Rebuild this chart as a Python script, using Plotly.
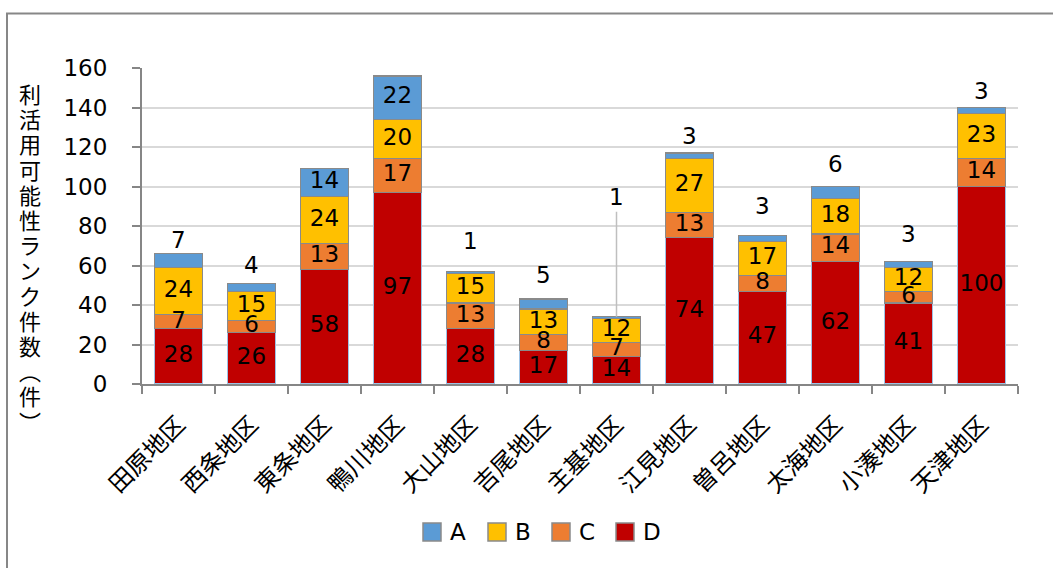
import plotly.graph_objects as go

# 地区別・ランク別の件数
districts = ["田原地区", "西条地区", "東条地区", "鴨川地区", "大山地区", "吉尾地区",
             "主基地区", "江見地区", "曽呂地区", "太海地区", "小湊地区", "天津地区"]
rank_a = [7, 4, 14, 22, 1, 5, 1, 3, 3, 6, 3, 3]
rank_b = [24, 15, 24, 20, 15, 13, 12, 27, 17, 18, 12, 23]
rank_c = [7, 6, 13, 17, 13, 8, 7, 13, 8, 14, 6, 14]
rank_d = [28, 26, 58, 97, 28, 17, 14, 74, 47, 62, 41, 100]

y_ticks = [0, 20, 40, 60, 80, 100, 120, 140, 160]
y_title = "利活用可能性ランク件数︵件︶"

# ラベルを棒の上に出すAランク値の縦方向ずらし量 (px)
a_label_shift = [14, 18, 0, 0, 30, 24, 119, 17, 30, 23, 28, 17]

COLORS = {"A": "#5B9BD5", "B": "#FFC000", "C": "#ED7D31", "D": "#C00000"}
FONT = "DejaVu Sans, Noto Sans CJK JP, sans-serif"
CJK = "Noto Sans CJK JP, sans-serif"
LABEL_SIZE = 23

W, H = 1053, 568
L, R, T, B = 142, 35, 68, 184
pw, ph = W - L - R, H - T - B


def px_x(px):
    return (px - L) / pw


def px_y(py):
    return (H - B - py) / ph


fig = go.Figure()

# 積み上げ順 (下から D, C, B, A)
stack = [("D", rank_d, "#9DC3E6"), ("C", rank_c, "#8A8A8A"),
         ("B", rank_b, "#8A8A8A"), ("A", rank_a, "#8A8A8A")]

for name, values, edge in stack:
    fig.add_trace(go.Bar(
        name=name,
        x=districts,
        y=values,
        marker=dict(color=COLORS[name], line=dict(color=edge, width=1.2)),
        hoverinfo="skip",
        showlegend=False,
    ))

# 各区分の中央に件数ラベル (棒の上に重ねて描く)
base = [0] * len(districts)
for name, values, _ in stack:
    mids = [b + v / 2 for b, v in zip(base, values)]
    show = [v >= 10 or name != "A" for v in values]
    fig.add_trace(go.Scatter(
        x=[d for d, s in zip(districts, show) if s],
        y=[m for m, s in zip(mids, show) if s],
        text=[str(v) for v, s in zip(values, show) if s],
        mode="text",
        textposition="middle center",
        textfont=dict(family=FONT, size=LABEL_SIZE, color="black"),
        hoverinfo="skip",
        showlegend=False,
    ))
    base = [b + v for b, v in zip(base, values)]

# 小さいAランク値は棒の上に表示
totals = base
for name, a, tot, shift in zip(districts, rank_a, totals, a_label_shift):
    if a >= 10:
        continue
    if shift > 60:
        # 引き出し線付き
        fig.add_annotation(x=name, y=tot, text=str(a), showarrow=True,
                           arrowhead=0, arrowwidth=1.5, arrowcolor="#BFBFBF",
                           ax=0, ay=-(shift - 14), standoff=0,
                           font=dict(family=FONT, size=LABEL_SIZE, color="black"),
                           yanchor="bottom")
    else:
        fig.add_annotation(x=name, y=tot, text=str(a), showarrow=False,
                           yshift=shift, yanchor="middle",
                           font=dict(family=FONT, size=LABEL_SIZE, color="black"))

# 縦書きの軸タイトル
for i, ch in enumerate(y_title):
    fig.add_annotation(xref="paper", yref="paper",
                       x=px_x(30), y=px_y(93 + i * 25.2),
                       text=ch, showarrow=False, xanchor="center", yanchor="middle",
                       font=dict(family=CJK, size=22, color="black"))

# 凡例 (四角マーカー + 文字)
legend_items = ["A", "B", "C", "D"]
legend_left = [423, 488, 552, 616]
for key, lx in zip(legend_items, legend_left):
    fig.add_shape(type="rect", xref="paper", yref="paper",
                  x0=px_x(lx), x1=px_x(lx + 18), y0=px_y(541), y1=px_y(523),
                  line=dict(color="#8A8A8A", width=1.5), fillcolor=COLORS[key])
    fig.add_annotation(xref="paper", yref="paper", x=px_x(lx + 25), y=px_y(532),
                       text=key, showarrow=False, xanchor="left", yanchor="middle",
                       font=dict(family=FONT, size=23, color="black"))

# グラフ外枠
fig.add_shape(type="rect", xref="paper", yref="paper",
              x0=px_x(7), x1=px_x(W + 20), y0=px_y(H + 20), y1=px_y(13.5),
              line=dict(color="#878787", width=2), fillcolor="rgba(0,0,0,0)", layer="below")

fig.update_layout(
    width=W, height=H,
    margin=dict(l=L, r=R, t=T, b=B, autoexpand=False),
    barmode="stack",
    bargap=0.34,
    plot_bgcolor="white",
    paper_bgcolor="white",
    font=dict(family=FONT, color="black"),
    showlegend=False,
    xaxis=dict(
        range=[-0.5, len(districts) - 0.5],
        showline=True, linecolor="#868686", linewidth=2,
        ticks="outside", ticklen=8, tickcolor="#868686", tickwidth=1.5,
        tickson="boundaries",
        tickangle=-45,
        ticklabelstandoff=15,
        tickfont=dict(family=CJK, size=24, color="black"),
        showgrid=False,
    ),
    yaxis=dict(
        range=[0, 160],
        tickvals=y_ticks,
        showline=True, linecolor="#868686", linewidth=2,
        ticks="outside", ticklen=8, tickcolor="#868686", tickwidth=1.5,
        ticklabelstandoff=20,
        tickfont=dict(family=FONT, size=23, color="black"),
        showgrid=True, gridcolor="#D9D9D9", gridwidth=1.5,
        zeroline=False,
    ),
)

fig.write_html("out.html")
